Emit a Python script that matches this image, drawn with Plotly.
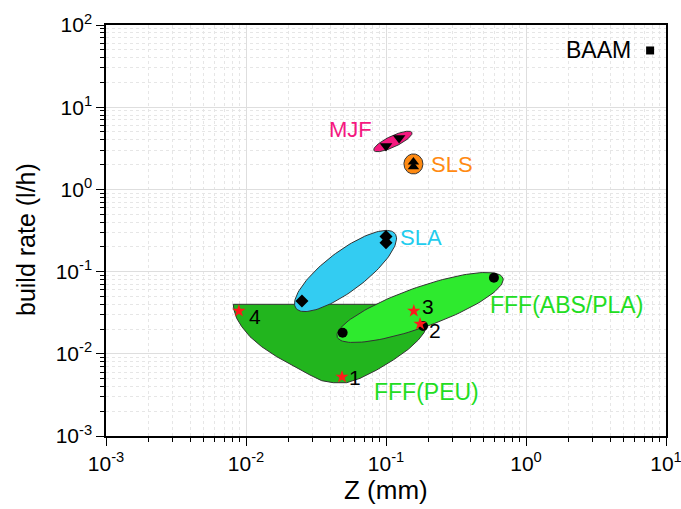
import numpy as np
import plotly.graph_objects as go

# ---------------- data ----------------
baam_z = [7.7]
baam_rate = [49]

mjf_z = [0.100, 0.124]
mjf_rate = [3.37, 4.22]

sls_z = [0.157, 0.157]
sls_rate = [1.88, 2.15]

sla_z = [0.100, 0.100, 0.0251]
sla_rate = [0.268, 0.225, 0.0439]

abs_z = [0.049, 0.184, 0.59]
abs_rate = [0.018, 0.0218, 0.084]

peu_z = [0.0485, 0.175, 0.158, 0.0089]
peu_rate = [0.00523, 0.0231, 0.0332, 0.0332]
peu_names = ["1", "2", "3", "4"]

# outline of the FFF(PEU) region (data units)
peu_region_z = [0.00811, 0.00821, 0.00858, 0.00932, 0.01068, 0.01294, 0.01657,
                0.02177, 0.02865, 0.03473, 0.04203, 0.05240, 0.06522, 0.0858,
                0.1127, 0.1443, 0.1701, 0.1868, 0.1953, 0.1953, 0.00811]
peu_region_rate = [0.0400, 0.0341, 0.0270, 0.0214, 0.01614, 0.01220, 0.00922,
                   0.00710, 0.00552, 0.00471, 0.00445, 0.00445, 0.00503, 0.00635,
                   0.00841, 0.01134, 0.01472, 0.01806, 0.0214, 0.0400, 0.0400]

# ellipse regions: centre (data units) and conjugate semi-axes (decades)
sla_region = dict(cz=0.0514, cr=0.1017, a=(0.354, 0.454), b=(-0.086, 0.194))
abs_region = dict(cz=0.175, cr=0.0366, a=(0.592, 0.359), b=(-0.048, 0.229))
mjf_region = dict(cz=0.112, cr=3.83, a=(0.136, 0.109), b=(-0.017, 0.0605))
sls_region = dict(cz=0.157, cr=2.04, a=(0.068, 0.0), b=(0.0, 0.122))

x_tickvals = [1e-3, 1e-2, 1e-1, 1e0, 1e1]
x_ticktext = ["10<sup>-3</sup>", "10<sup>-2</sup>", "10<sup>-1</sup>", "10<sup>0</sup>", "10<sup>1</sup>"]
y_tickvals = [1e-3, 1e-2, 1e-1, 1e0, 1e1, 1e2]
y_ticktext = ["10<sup>-3</sup>", "10<sup>-2</sup>", "10<sup>-1</sup>", "10<sup>0</sup>",
              "10<sup>1</sup>", "10<sup>2</sup>"]

# ---------------- figure ----------------
FONT = "Liberation Sans, Arial, sans-serif"
fig = go.Figure()


def ellipse(reg):
    t = np.linspace(0, 2 * np.pi, 120)
    lx = np.log10(reg["cz"]) + reg["a"][0] * np.cos(t) + reg["b"][0] * np.sin(t)
    ly = np.log10(reg["cr"]) + reg["a"][1] * np.cos(t) + reg["b"][1] * np.sin(t)
    return 10 ** lx, 10 ** ly


outline = dict(color="#333333", width=1)

fig.add_trace(go.Scatter(x=peu_region_z, y=peu_region_rate, mode="lines",
                         line=dict(color="#333333", width=1),
                         fill="toself", fillcolor="#22b51e", hoverinfo="skip"))

for reg, col in [(sla_region, "#33ccf2"), (abs_region, "#2eea2e"),
                 (mjf_region, "#f5187f"), (sls_region, "#ff8a12")]:
    ex, ey = ellipse(reg)
    fig.add_trace(go.Scatter(x=ex, y=ey, mode="lines", line=outline,
                             fill="toself", fillcolor=col, hoverinfo="skip"))

fig.add_trace(go.Scatter(x=abs_z, y=abs_rate, mode="markers",
                         marker=dict(symbol="circle", size=10, color="black")))
fig.add_trace(go.Scatter(x=sla_z, y=sla_rate, mode="markers",
                         marker=dict(symbol="diamond", size=10, color="black")))
fig.add_trace(go.Scatter(x=mjf_z, y=mjf_rate, mode="markers",
                         marker=dict(symbol="triangle-down", size=11, color="black")))
fig.add_trace(go.Scatter(x=sls_z, y=sls_rate, mode="markers",
                         marker=dict(symbol="triangle-up", size=10, color="black")))
fig.add_trace(go.Scatter(x=baam_z, y=baam_rate, mode="markers",
                         marker=dict(symbol="square", size=8, color="black")))
fig.add_trace(go.Scatter(x=peu_z, y=peu_rate, mode="markers",
                         marker=dict(symbol="star", size=10, color="#ff1a1a",
                                     line=dict(width=0))))

# ---------------- labels ----------------
def label(x, y, text, color, xanchor, xshift, yshift, size=23):
    fig.add_annotation(x=np.log10(x), y=np.log10(y), text=text, showarrow=False,
                       xanchor=xanchor, yanchor="middle", xshift=xshift, yshift=yshift,
                       font=dict(family=FONT, size=size, color=color))


label(baam_z[0], baam_rate[0], "BAAM", "black", "right", -17, 0)
label(mjf_region["cz"], mjf_region["cr"], "MJF", "#f5187f", "right", -19, 12, 22)
label(sls_region["cz"], sls_region["cr"], "SLS", "#ff8a12", "left", 16, -1, 22)
label(sla_z[0], sla_rate[0], "SLA", "#22ccee", "left", 12, -1, 22)
label(abs_z[2], abs_rate[2], "FFF(ABS/PLA)", "#22dd22", "left", -6, -27)
label(peu_z[0], peu_rate[0], "FFF(PEU)", "#22dd22", "left", 30, -15)
num_shift = [(5, -1), (7, -7), (6, 4), (8, -6)]
for zz, rr, nm, (dx, dy) in zip(peu_z, peu_rate, peu_names, num_shift):
    label(zz, rr, nm, "black", "left", dx, dy, 21)

# axis titles (placed as annotations for exact position)
fig.add_annotation(xref="paper", yref="paper", x=(26 - 106) / 560, y=(436 - 240) / 411,
                   text="build rate (l/h)", textangle=-90, showarrow=False,
                   xanchor="center", yanchor="middle",
                   font=dict(family=FONT, size=25, color="black"))
fig.add_annotation(xref="paper", yref="paper", x=0.5, y=(436 - 490) / 411,
                   text="Z (mm)", showarrow=False, xanchor="center", yanchor="middle",
                   font=dict(family=FONT, size=26, color="black"))

# ---------------- axes ----------------
axis_common = dict(type="log", showline=True, linecolor="black", linewidth=1.5,
                   mirror=True, ticks="outside", ticklen=8, tickwidth=1.2,
                   tickcolor="black", tickmode="array", ticklabeloverflow="allow",
                   automargin=False,
                   showgrid=True, gridcolor="#dedede", gridwidth=1, zeroline=False,
                   tickfont=dict(family=FONT, size=21, color="black"),
                   minor=dict(ticks="outside", ticklen=4, tickwidth=1, tickcolor="black",
                              dtick="D1", showgrid=True, gridcolor="#e6e6e6",
                              griddash="dot", gridwidth=1))

fig.update_xaxes(range=[-3, 1], tickvals=x_tickvals, ticktext=x_ticktext, **axis_common)
fig.update_yaxes(range=[-3, 2], tickvals=y_tickvals, ticktext=y_ticktext, **axis_common)

fig.update_layout(width=681, height=509, margin=dict(l=106, r=15, t=25, b=73),
                  paper_bgcolor="white", plot_bgcolor="white", showlegend=False)

fig.write_html("out.html")
